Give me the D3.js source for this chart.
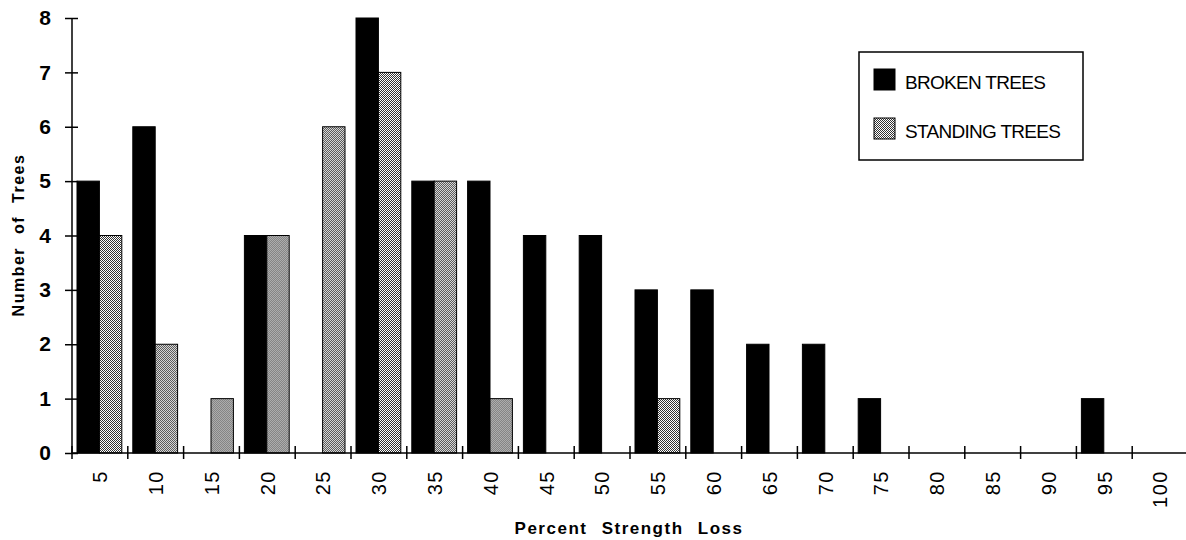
<!DOCTYPE html>
<html>
<head>
<meta charset="utf-8">
<script src="https://cdn.jsdelivr.net/npm/d3@7"></script>
<style>
  html, body { margin: 0; padding: 0; background: #fff; }
  svg { display: block; font-family: "Liberation Sans", Arial, Helvetica, sans-serif; }
</style>
</head>
<body>
<svg id="chart" width="1186" height="540"></svg>
<script>
const categories = ["5","10","15","20","25","30","35","40","45","50","55","60","65","70","75","80","85","90","95","100"];
const brokenTrees = [5,6,0,4,0,8,5,5,4,4,3,3,2,2,1,0,0,0,1,0];
const standingTrees = [4,2,1,4,6,7,5,1,0,0,1,0,0,0,0,0,0,0,0,0];
const seriesNames = ["BROKEN TREES","STANDING TREES"];
const yTicks = [0,1,2,3,4,5,6,7,8];

const svg = d3.select("#chart");
const defs = svg.append("defs");
const pat = defs.append("pattern").attr("id","dots").attr("patternUnits","userSpaceOnUse")
  .attr("width",2).attr("height",2);
pat.append("rect").attr("width",2).attr("height",2).attr("fill","#fff");
pat.append("rect").attr("x",0).attr("y",0).attr("width",1).attr("height",1).attr("fill","#333");
pat.append("rect").attr("x",1).attr("y",1).attr("width",1).attr("height",1).attr("fill","#333");

const mLeft = 72, mRight = 1188, mTop = 18, mBottom = 453;
const x = d3.scaleBand().domain(categories).range([mLeft, mRight]).padding(0);
const x1 = d3.scaleBand().domain(seriesNames).range([5, x.bandwidth() - 6]).padding(0);
const y = d3.scaleLinear().domain([0, 8]).range([mBottom, mTop]);

const data = categories.map((c, i) => ({ cat: c, values: [
  { name: seriesNames[0], v: brokenTrees[i] },
  { name: seriesNames[1], v: standingTrees[i] } ] }));

const fills = { "BROKEN TREES": "#000", "STANDING TREES": "url(#dots)" };

// bars
const g = svg.append("g");
g.selectAll("g.cat").data(data).join("g").attr("class","cat")
  .attr("transform", d => `translate(${x(d.cat)},0)`)
  .selectAll("rect").data(d => d.values.filter(v => v.v > 0)).join("rect")
  .attr("x", d => x1(d.name))
  .attr("width", x1.bandwidth())
  .attr("y", d => y(d.v))
  .attr("height", d => y(0) - y(d.v))
  .attr("fill", d => fills[d.name])
  .attr("stroke", "#000").attr("stroke-width", 1);

// y axis
const yAxis = svg.append("g").attr("transform", `translate(${mLeft},0)`)
  .call(d3.axisLeft(y).tickValues(yTicks).tickFormat(d3.format("d")).tickSize(7).tickPadding(14));
yAxis.select(".domain").attr("stroke","#000").attr("stroke-width",1.5).attr("d", `M0,${mTop}V${mBottom}`);
yAxis.selectAll(".tick line").attr("x1",-7).attr("x2",6).attr("stroke-width",1.5);
yAxis.selectAll(".tick text").attr("font-size",21).attr("font-weight","bold")
  .attr("font-family","'Liberation Sans', Arial, sans-serif").attr("fill","#000");

// x axis line
svg.append("line").attr("x1", mLeft).attr("x2", 1186).attr("y1", mBottom).attr("y2", mBottom)
  .attr("stroke","#000").attr("stroke-width",1.5);
// boundary ticks
svg.append("g").selectAll("line").data(categories).join("line")
  .attr("x1", d => x(d)).attr("x2", d => x(d))
  .attr("y1", mBottom - 7).attr("y2", mBottom + 6)
  .attr("stroke","#000").attr("stroke-width",1.5);
// x labels
svg.append("g").selectAll("text").data(categories).join("text")
  .attr("transform", d => `translate(${x(d) + x.bandwidth()/2},470) rotate(-90)`)
  .attr("text-anchor","end").attr("dy","0.36em")
  .attr("font-size",20).attr("letter-spacing",1.5).attr("fill","#000")
  .text(d => d);

// axis titles
svg.append("text").attr("x", 629).attr("y", 534).attr("text-anchor","middle")
  .attr("font-size",17).attr("font-weight","bold").attr("letter-spacing",1.5).attr("word-spacing",8)
  .text("Percent Strength Loss");
svg.append("text").attr("transform","translate(24,235) rotate(-90)").attr("text-anchor","middle")
  .attr("font-size",16).attr("font-weight","bold").attr("letter-spacing",1.5).attr("word-spacing",7)
  .text("Number of Trees");

// legend
const lg = svg.append("g");
lg.append("rect").attr("x",859).attr("y",52).attr("width",224).attr("height",108)
  .attr("fill","#fff").attr("stroke","#000").attr("stroke-width",1.5);
const items = lg.selectAll("g.item").data(seriesNames).join("g").attr("class","item")
  .attr("transform", (d,i) => `translate(874,${69 + i*49})`);
items.append("rect").attr("width",21).attr("height",21)
  .attr("fill", d => fills[d]).attr("stroke","#000").attr("stroke-width",1);
items.append("text").attr("x",31).attr("y",20).attr("font-size",19).attr("letter-spacing",-0.7)
  .attr("fill","#000").text(d => d);
</script>
</body>
</html>
